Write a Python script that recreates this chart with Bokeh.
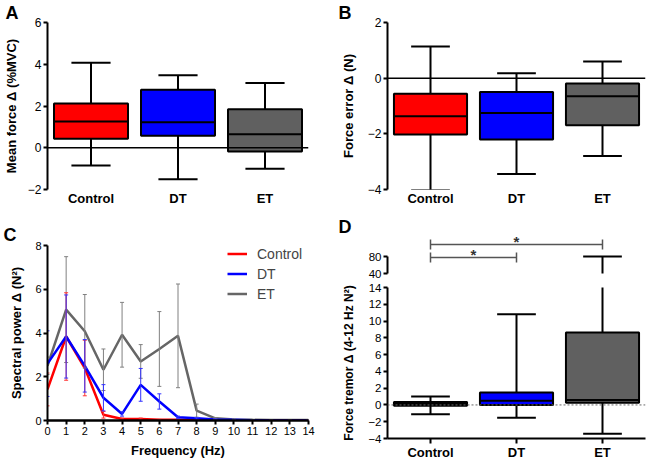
from bokeh.plotting import figure
from bokeh.layouts import row, column
from bokeh.models import (Range1d, FixedTicker, Span, Whisker, TeeHead,
                          ColumnDataSource, Legend, LegendItem)
from bokeh.embed import file_html
from bokeh.resources import INLINE
from bokeh.core.properties import value

FONT = "Liberation Sans"

# ---------------- data ----------------
groups = ["Control", "DT", "ET"]
group_colors = ["#ff0000", "#0000ff", "#606060"]

# Panel A: Mean force delta (%MVC) box plots
a_low = [-0.85, -1.51, -1.0]
a_q1 = [0.43, 0.58, -0.18]
a_med = [1.26, 1.22, 0.65]
a_q3 = [2.12, 2.78, 1.85]
a_high = [4.07, 3.47, 3.1]

# Panel B: Force error delta (N)
b_low = [-4.02, -3.44, -2.8]
b_q1 = [-2.02, -2.2, -1.69]
b_med = [-1.37, -1.25, -0.65]
b_q3 = [-0.56, -0.5, -0.19]
b_high = [1.14, 0.18, 0.6]

# Panel C: spectral power vs frequency (mean +/- error)
freq = [0, 1, 2, 3, 4, 5, 6, 7, 8, 9, 10, 11, 12, 13, 14]
ctrl_pow = [1.42, 3.84, 2.4, 0.26, 0.07, 0.07, 0.03, 0.03, 0.02, 0.01, 0.01, 0.0, 0.0, 0.0, 0.0]
ctrl_err = [0.75, 2.0, 1.27, 0.15, 0.04, 0.04, 0.02, 0.02, 0.01, 0.0, 0.0, 0.0, 0.0, 0.0, 0.0]
dt_pow = [2.6, 3.84, 2.5, 1.04, 0.3, 1.63, 0.87, 0.15, 0.1, 0.05, 0.03, 0.01, 0.0, 0.0, 0.0]
dt_err = [1.5, 1.9, 1.2, 0.6, 0.1, 0.75, 0.35, 0.05, 0.04, 0.02, 0.01, 0.0, 0.0, 0.0, 0.0]
et_pow = [2.5, 5.07, 4.08, 2.32, 3.92, 2.7, 3.27, 3.87, 0.45, 0.1, 0.05, 0.03, 0.02, 0.02, 0.02]
et_err = [0.4, 2.42, 1.68, 0.95, 1.48, 0.77, 1.71, 2.37, 0.3, 0.03, 0.02, 0.0, 0.0, 0.0, 0.0]
freq_ticks = list(range(0, 15))

# Panel D: Force tremor delta (4-12 Hz N^2)
d_low = [-1.1, -1.52, -3.44]
d_q1 = [-0.1, 0.0, 0.27]
d_med = [0.1, 0.5, 0.58]
d_q3 = [0.35, 1.48, 8.63]
d_high = [1.0, 10.8, 80.0]
sig_pairs = [("Control", "ET"), ("Control", "DT")]
sig_marks = ["*", "*"]

a_ticks = [-2, 0, 2, 4, 6]
b_ticks = [-4, -2, 0, 2]
c_ticks = [0, 2, 4, 6, 8]
d_low_ticks = [-4, -2, 0, 2, 4, 6, 8, 10, 12, 14]
d_high_ticks = [40, 80]

# ---------------- helpers ----------------
xs = [i + 1 for i in range(len(groups))]
overrides = {x: g for x, g in zip(xs, groups)}


def base_fig(width, height, x_range, y_range, left, right, top, bottom,
             letter=None, letter_offset=0, letter_standoff=0):
    p = figure(width=width, height=height, x_range=x_range, y_range=y_range,
               output_backend="svg", toolbar_location=None,
               min_border_left=left, min_border_right=right,
               min_border_top=top, min_border_bottom=bottom)
    p.xgrid.visible = False
    p.ygrid.visible = False
    p.outline_line_color = None
    p.background_fill_color = "white"
    p.border_fill_color = "white"
    if letter:
        p.title.text = letter
        p.title.text_font = FONT
        p.title.text_font_style = "bold"
        p.title.text_font_size = "18px"
        p.title.text_color = "black"
        p.title.align = "left"
        p.title.offset = letter_offset
        p.title.standoff = letter_standoff
    for ax in p.axis:
        ax.axis_line_width = 2
        ax.axis_line_color = "black"
        ax.major_tick_line_width = 2
        ax.major_tick_line_color = "black"
        ax.major_tick_in = 0
        ax.major_tick_out = 4
        ax.minor_tick_line_color = None
        ax.major_label_text_font = FONT
        ax.major_label_text_color = "black"
        ax.major_label_text_font_size = "12px"
        ax.major_label_standoff = 2
        ax.axis_label_text_font = FONT
        ax.axis_label_text_font_style = "bold"
        ax.axis_label_text_font_size = "13px"
        ax.axis_label_text_color = "black"
    return p


def draw_boxes(p, low, q1, med, q3, high, box_w=0.85, cap_w=0.45):
    src = ColumnDataSource(dict(
        x=xs, low=low, q1=q1, med=med, q3=q3, high=high, color=group_colors,
        left=[x - box_w / 2 for x in xs], right=[x + box_w / 2 for x in xs],
        cl=[x - cap_w / 2 for x in xs], cr=[x + cap_w / 2 for x in xs]))
    kw = dict(source=src, line_color="black", line_width=2)
    p.segment(x0="x", y0="q3", x1="x", y1="high", **kw)
    p.segment(x0="x", y0="q1", x1="x", y1="low", **kw)
    p.segment(x0="cl", y0="high", x1="cr", y1="high", **kw)
    p.segment(x0="cl", y0="low", x1="cr", y1="low", **kw)
    p.quad(left="left", right="right", bottom="q1", top="q3",
           fill_color="color", **kw)
    p.segment(x0="left", y0="med", x1="right", y1="med", **kw)


def cat_xaxis(p, ticks_visible=False):
    ax = p.xaxis[0]
    ax.ticker = FixedTicker(ticks=xs)
    ax.major_label_overrides = overrides
    ax.major_label_text_font_style = "bold"
    ax.major_label_text_font_size = "13px"
    if not ticks_visible:
        ax.axis_line_color = None
        ax.major_tick_line_color = None
        ax.major_tick_out = 0
        ax.major_label_standoff = 1
    else:
        ax.major_tick_out = 5
        ax.major_label_standoff = 1


# ---------------- Panel A ----------------
pA = base_fig(326, 208, Range1d(0.5, 3.5), Range1d(-2, 6), 45, 16, 19, 15,
              letter="A", letter_offset=-42)
pA.yaxis.ticker = FixedTicker(ticks=a_ticks)
pA.yaxis.axis_label = "Mean force Δ (%MVC)"
pA.yaxis.axis_label_standoff = 6
cat_xaxis(pA)
pA.add_layout(Span(location=0, dimension="width", line_color="black", line_width=1.5))
draw_boxes(pA, a_low, a_q1, a_med, a_q3, a_high)

# ---------------- Panel B ----------------
pB = base_fig(324, 208, Range1d(0.5, 3.5), Range1d(-4, 2), 58, 3, 20, 19,
              letter="B", letter_offset=-49)
pB.yaxis.ticker = FixedTicker(ticks=b_ticks)
pB.yaxis.axis_label = "Force error Δ (N)"
pB.yaxis.axis_label_standoff = 9
cat_xaxis(pB)
pB.add_layout(Span(location=0, dimension="width", line_color="black", line_width=1.5))
draw_boxes(pB, b_low, b_q1, b_med, b_q3, b_high)

# ---------------- Panel C ----------------
pC = base_fig(326, 254, Range1d(0, 14), Range1d(0, 8), 47, 18, 37, 42,
              letter="C", letter_offset=-44, letter_standoff=1)
pC.yaxis.ticker = FixedTicker(ticks=c_ticks)
pC.xaxis.ticker = FixedTicker(ticks=freq_ticks)
pC.xaxis.axis_line_width = 2.5
pC.xaxis.axis_label = "Frequency (Hz)"
pC.yaxis.axis_label = "Spectral power Δ (N²)"
pC.yaxis.axis_label_standoff = 8
pC.xaxis.axis_label_standoff = 5
for ax in pC.axis:
    ax.major_label_text_font_size = "11px"

series = [("Control", ctrl_pow, ctrl_err, "#ff0000", "#ff3333"),
          ("DT", dt_pow, dt_err, "#0000ff", "#3333ff"),
          ("ET", et_pow, et_err, "#666666", "#808080")]
renderers = {}
for name, pw, er, col, ecol in [series[2], series[0], series[1]]:
    src = ColumnDataSource(dict(x=freq, y=pw,
                                lo=[v - e for v, e in zip(pw, er)],
                                hi=[v + e for v, e in zip(pw, er)]))
    wk = Whisker(source=src, base="x", lower="lo", upper="hi", dimension="height",
                 line_color=ecol, line_width=1, level="glyph",
                 upper_head=TeeHead(size=4, line_color=ecol, line_width=1),
                 lower_head=TeeHead(size=4, line_color=ecol, line_width=1))
    pC.add_layout(wk)
    renderers[name] = pC.line("x", "y", source=src, line_color=col, line_width=2.5)

legend = Legend(items=[LegendItem(label=n, renderers=[renderers[n]]) for n in groups],
                location=(180, 118), margin=0, padding=0, spacing=3,
                glyph_width=20, glyph_height=17, label_height=17,
                label_standoff=10, label_text_font=FONT,
                label_text_font_size="14px", border_line_color=None,
                background_fill_alpha=0)
pC.add_layout(legend)

# ---------------- Panel D (broken axis) ----------------
d_x = Range1d(0.5, 3.5)
pDt = base_fig(324, 72, d_x, Range1d(40, 127.06), 61, 5, 28, 7,
               letter="D", letter_offset=-49)
pDt.xaxis.visible = False
pDt.yaxis.ticker = FixedTicker(ticks=d_high_ticks)
pDt.yaxis.bounds = (40, 80)
pDt.yaxis.major_label_text_font_size = "11.5px"
draw_boxes(pDt, d_low, d_q1, d_med, d_q3, d_high)
sig_y = [108.2, 77.6]
sig_src = ColumnDataSource(dict(
    y=sig_y,
    x0=[xs[groups.index(a)] for a, b in sig_pairs],
    x1=[xs[groups.index(b)] for a, b in sig_pairs],
    xm=[(xs[groups.index(a)] + xs[groups.index(b)]) / 2 for a, b in sig_pairs],
    t=sig_marks))
pDt.add_layout(Whisker(source=sig_src, base="y", lower="x0", upper="x1", dimension="width",
                       line_color="#555555", line_width=1.5,
                       upper_head=TeeHead(size=10, line_color="#555555", line_width=1.5),
                       lower_head=TeeHead(size=10, line_color="#555555", line_width=1.5)))
pDt.text(x="xm", y="y", text="t", source=sig_src, text_align="center",
         text_baseline="alphabetic", y_offset=-3, text_font=value(FONT),
         text_font_size="15px", text_font_style="bold", text_color="#333333")

pDb = base_fig(324, 182, d_x, Range1d(-4, 14), 61, 5, 7, 22)
pDb.yaxis.ticker = FixedTicker(ticks=d_low_ticks)
pDb.yaxis.major_label_text_font_size = "11.5px"
pDb.yaxis.axis_label = "Force tremor Δ (4-12 Hz N²)"
pDb.yaxis.axis_label_text_font_size = "12px"
pDb.yaxis.axis_label_standoff = 9
cat_xaxis(pDb, ticks_visible=True)
draw_boxes(pDb, d_low, d_q1, d_med, d_q3, d_high)
pDb.add_layout(Span(location=0, dimension="width", line_color="#666666",
                    line_width=1, line_dash="2 2"))

layout = row(column(pA, pC), column(pB, pDt, pDb))

open("out.html", "w").write(file_html(layout, INLINE))
